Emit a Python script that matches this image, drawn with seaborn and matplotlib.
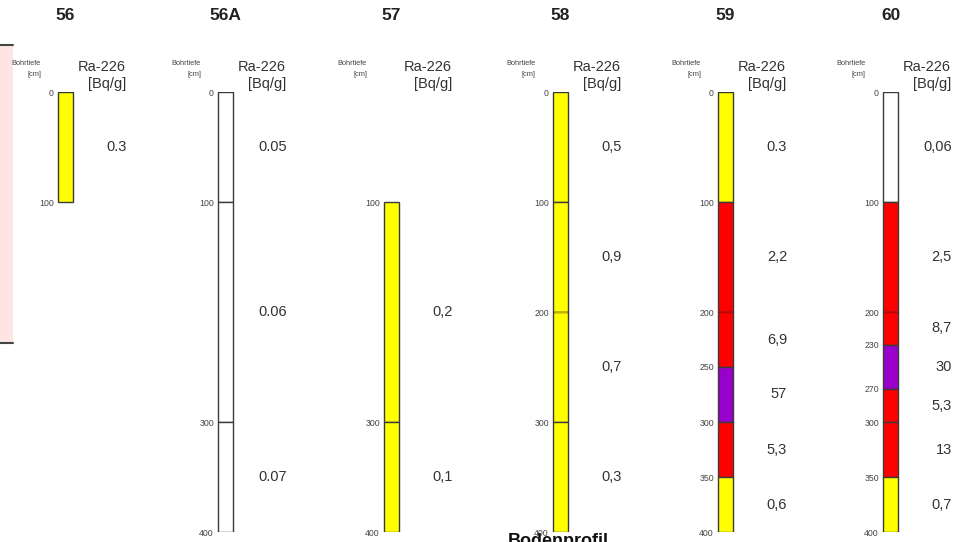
import numpy as np
import matplotlib
matplotlib.use("Agg")
import matplotlib.pyplot as plt
import matplotlib.patches as mpatches
import seaborn as sns

# --- data: drill cores, depth boundaries (cm), Ra-226 values, layer colours ---
cores = ['56', '56A', '57', '58', '59', '60']

bounds_56 = [0, 100]
vals_56 = ['0.3']
cols_56 = ['yellow']

bounds_56a = [0, 100, 300, 400]
vals_56a = ['0.05', '0.06', '0.07']
cols_56a = ['white', 'white', 'white']

bounds_57 = [100, 300, 400]
vals_57 = ['0,2', '0,1']
cols_57 = ['yellow', 'yellow']

bounds_58 = [0, 100, 200, 300, 400]
vals_58 = ['0,5', '0,9', '0,7', '0,3']
cols_58 = ['yellow', 'yellow', 'yellow', 'yellow']

bounds_59 = [0, 100, 200, 250, 300, 350, 400]
vals_59 = ['0.3', '2,2', '6,9', '57', '5,3', '0,6']
cols_59 = ['yellow', 'red', 'red', 'purple', 'red', 'yellow']

bounds_60 = [0, 100, 200, 230, 270, 300, 350, 400]
vals_60 = ['0,06', '2,5', '8,7', '30', '5,3', '13', '0,7']
cols_60 = ['white', 'red', 'red', 'purple', 'red', 'red', 'yellow']

# depths where the separating line is only faint
faint_56, faint_56a, faint_57 = [], [], []
faint_58, faint_59, faint_60 = [200], [200], [200]

all_bounds = [bounds_56, bounds_56a, bounds_57, bounds_58, bounds_59, bounds_60]
all_vals = [vals_56, vals_56a, vals_57, vals_58, vals_59, vals_60]
all_cols = [cols_56, cols_56a, cols_57, cols_58, cols_59, cols_60]
all_faint = [faint_56, faint_56a, faint_57, faint_58, faint_59, faint_60]

palette = {'yellow': '#FFFF00', 'red': '#FF0000', 'purple': '#9900CC', 'white': '#FFFFFF'}
faint_line = {'yellow': '#C8B400', 'red': '#C80000', 'purple': '#6A0090', 'white': '#888888'}

# --- layout (pixels) ---
W, H = 961, 542
bar_left = [58, 218, 384, 553, 718, 883]
bar_w = 15
y0_px, y400_px = 92, 532   # depth 0 and 400 on screen

sns.set_theme(style="white")
plt.rcParams['font.family'] = ['Liberation Sans', 'DejaVu Sans']

fig = plt.figure(figsize=(W / 100, H / 100), dpi=100)

# cropped legend box on the far left (behind everything)
fig.add_artist(mpatches.Rectangle((0, 1 - 343 / H), 13 / W, (343 - 45) / H,
                                  transform=fig.transFigure, facecolor='#FFE4E4',
                                  edgecolor='none', zorder=-2))
for yy in (45, 343):
    fig.add_artist(plt.Line2D([0, 13 / W], [1 - yy / H, 1 - yy / H],
                              transform=fig.transFigure, color='#444444', lw=1.5,
                              zorder=-1))

for i, core in enumerate(cores):
    bl = bar_left[i]
    ax = fig.add_axes([(bl - 60) / W, (H - y400_px) / H, 140 / W, (y400_px - y0_px) / H])
    ax.set_xlim(-60, 80)
    ax.set_ylim(400, 0)
    ax.patch.set_alpha(0)
    for s in ['top', 'right', 'bottom']:
        ax.spines[s].set_visible(False)
    ax.spines['left'].set_position(('data', 0))
    ax.spines['left'].set_visible(False)
    ax.set_xticks([])

    b = np.array(all_bounds[i])
    tops, bots = b[:-1], b[1:]
    ax.bar(x=bar_w / 2, height=bots - tops, bottom=tops, width=bar_w,
           color=[palette[c] for c in all_cols[i]], edgecolor='#3a3a3a', linewidth=1.0)
    for d in all_faint[i]:
        k = list(b).index(d)
        ax.hlines(d, 0.6, bar_w - 0.6, color=faint_line[all_cols[i][k]], lw=1.0, zorder=5)

    ax.set_yticks(b)
    ax.set_yticklabels([str(v) for v in b])
    ax.tick_params(axis='y', length=0, pad=3, labelsize=6.3, labelcolor='#444444')

    # values at the middle of each sample interval
    for t, bo, v in zip(tops, bots, all_vals[i]):
        ax.text(69, (t + bo) / 2, v, ha='right', va='center', fontsize=10.5,
                color='#333333', clip_on=False)

    # headers
    ax.text(bar_w / 2, -70, core, ha='center', va='center', fontsize=12.5,
            fontweight='bold', color='#222222', clip_on=False)
    ax.text(-17, -26, 'Bohrtiefe', ha='right', va='center', fontsize=5.3,
            color='#444444', clip_on=False)
    ax.text(-17, -16, '[cm]', ha='right', va='center', fontsize=5.3,
            color='#444444', clip_on=False)
    ax.text(68, -22.5, 'Ra-226', ha='right', va='center', fontsize=10.5,
            color='#333333', clip_on=False)
    ax.text(68, -7.5, '[Bq/g]', ha='right', va='center', fontsize=10.5,
            color='#333333', clip_on=False)

fig.text(558 / W, 1 - 533 / H, 'Bodenprofil', ha='center', va='top',
         fontsize=13, fontweight='bold', color='#111111')

fig.savefig('out.png', dpi=100)
